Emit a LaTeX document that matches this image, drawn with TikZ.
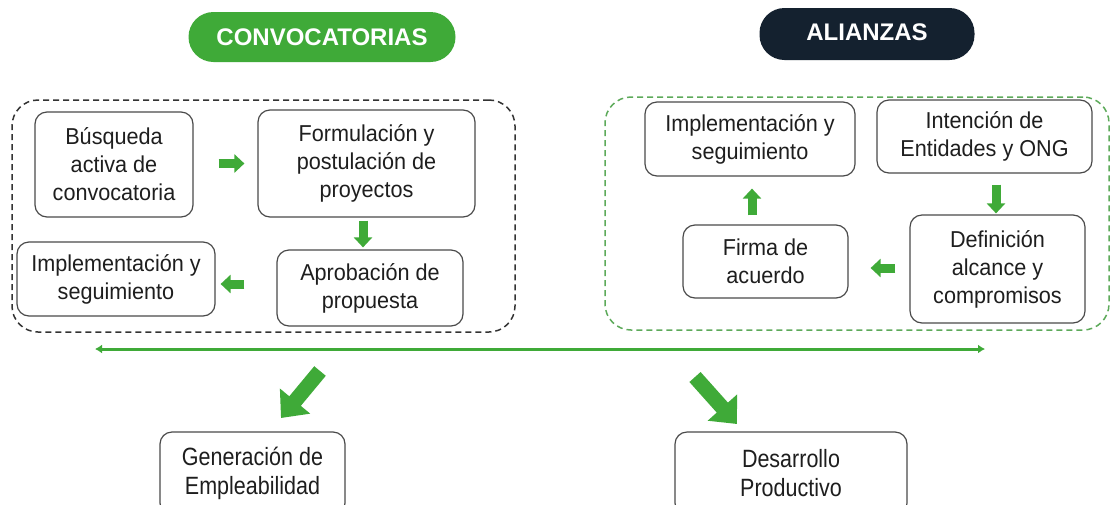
\documentclass[tikz,border=0pt]{standalone}
\usepackage{fontspec}
\setmainfont{Liberation Sans}
\newfontfamily\condfont[FakeStretch=0.94]{Liberation Sans}
\newfontfamily\bcondfont[FakeStretch=0.86]{Liberation Sans}
\usetikzlibrary{arrows.meta,calc}
\definecolor{cgreen}{HTML}{3FAA38}
\definecolor{navy}{HTML}{14212F}
\definecolor{dgreen}{HTML}{5DAA5A}
\definecolor{bord}{HTML}{4A4A4A}
\definecolor{txt}{HTML}{1E1E1E}
\begin{document}
\begin{tikzpicture}[x=1pt,y=-1pt,
  box/.style={draw=bord,line width=1.2pt,rounded corners=12pt,fill=white,align=center,
    text=txt,font=\condfont\fontsize{23}{28}\selectfont,inner sep=0pt},
  bbox/.style={box,font=\bcondfont\fontsize{25}{29}\selectfont},
  pill/.style={rounded corners=25pt,text=white,font=\fontsize{24}{28}\selectfont\bfseries,inner sep=0pt},
  frame/.style={dashed,dash pattern=on 6pt off 4pt,line width=1.5pt,rounded corners=26pt,inner sep=0pt},
  barrow/.style={draw=cgreen,line width=9pt,-{Triangle[length=10pt,width=18pt]}},
  bigarrow/.style={draw=cgreen,line width=15pt,-{Triangle[length=22pt,width=38pt]}},
  harrow/.style={draw=cgreen,line width=3pt,{Latex[length=7pt,width=9pt]}-{Latex[length=7pt,width=9pt]}}
]
\useasboundingbox (0,0) rectangle (1110,504);
\fill[white] (0,0) rectangle (1110,504);

% titles
\node[pill,fill=cgreen,minimum width=267pt,minimum height=50pt] (pc) at (322,37) {CONVOCATORIAS};
\node[pill,fill=navy,minimum width=215pt,minimum height=52pt] (pa) at (867,34) {\raisebox{3pt}{ALIANZAS}};

% frames
\node[frame,draw=black!80,minimum width=503pt,minimum height=232pt] (fL) at (263.5,216) {};
\node[frame,draw=dgreen,minimum width=504pt,minimum height=233pt] (fR) at (857,213.5) {};

% left boxes
\node[box,minimum width=158pt,minimum height=105pt] (b1) at (114,164.5) {Búsqueda\\activa de\\convocatoria};
\node[box,minimum width=217pt,minimum height=107pt] (b2) at (366.5,163.5) {Formulación y\\postulación de\\proyectos};
\node[box,minimum width=186pt,minimum height=76pt] (b3) at (370,288) {Aprobación de\\propuesta};
\node[box,minimum width=198pt,minimum height=74pt] (b4) at (116,279) {Implementación y\\seguimiento};

% right boxes
\node[box,minimum width=215pt,minimum height=73pt] (r1) at (984.5,136.5) {Intención de\\Entidades y ONG};
\node[box,minimum width=175pt,minimum height=108pt] (r2) at (997.5,269) {Definición\\alcance y\\compromisos};
\node[box,minimum width=165pt,minimum height=73pt] (r3) at (765.5,261.5) {Firma de\\acuerdo};
\node[box,minimum width=210pt,minimum height=74pt] (r4) at (750,139) {Implementación y\\seguimiento};

% bottom boxes
\node[bbox,minimum width=185pt,minimum height=83pt] (g1) at (252.5,473.5) {\raisebox{2pt}{\parbox{185pt}{\centering Generación de\\Empleabilidad}}};
\node[bbox,minimum width=232pt,minimum height=83pt] (g2) at (791,473.5) {\raisebox{2pt}{\parbox{232pt}{\centering Desarrollo\\Productivo}}};

% small arrows, left
\draw[barrow,shorten <=25pt,shorten >=13pt] ([yshift=1pt]b1.east) -- ([yshift=1pt]b1.east -| b2.west);
\draw[barrow,shorten <=3pt,shorten >=2pt] ([xshift=-3.5pt]b2.south) -- ([xshift=-3.5pt]b2.south |- b3.north);
\draw[barrow,shorten <=32pt,shorten >=5pt] ([yshift=4pt]b3.west) -- ([yshift=4pt]b3.west -| b4.east);

% small arrows, right
\draw[barrow,shorten <=11pt,shorten >=1pt] ([xshift=11.5pt]r1.south) -- ([xshift=11.5pt]r1.south |- r2.north);
\draw[barrow,shorten <=14pt,shorten >=22pt] ([yshift=1pt]r2.west) -- ([yshift=1pt]r2.west -| r3.east);
\draw[barrow,shorten <=9pt,shorten >=12pt] ([xshift=-13.5pt]r3.north) -- ([xshift=-13.5pt]r3.north |- r4.south);

% horizontal double arrow
\coordinate (hL) at (95,349);
\coordinate (hR) at (985,349);
\draw[harrow] (hL) -- (hR);

% big diagonal arrows
\coordinate (dL1) at (320,371);
\coordinate (dL2) at (281,418);
\coordinate (dR1) at (695,377);
\coordinate (dR2) at (737,424);
\draw[bigarrow] (dL1) -- (dL2);
\draw[bigarrow] (dR1) -- (dR2);
\end{tikzpicture}
\end{document}
